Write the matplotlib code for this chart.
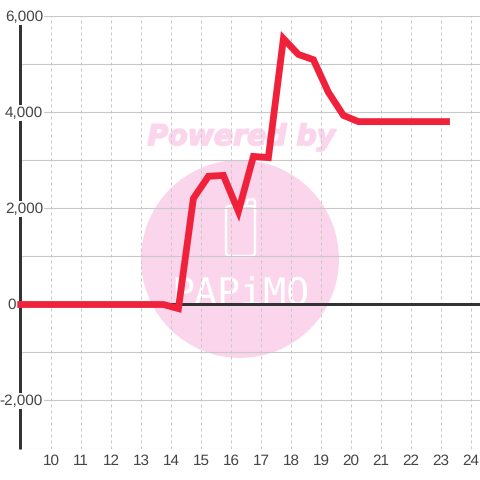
import matplotlib
matplotlib.use('Agg')
import matplotlib.pyplot as plt
import matplotlib.patheffects as pe
from matplotlib.lines import Line2D
from matplotlib.patches import Circle, FancyBboxPatch

# data
hours = [8.88, 9.25, 9.75, 10.25, 10.75, 11.25, 11.75, 12.25, 12.75, 13.25, 13.75,
         14.25, 14.75, 15.25, 15.75, 16.25, 16.75, 17.25, 17.75, 18.25, 18.75,
         19.25, 19.75, 20.25, 20.75, 21.25, 21.75, 22.25, 22.75, 23.3]
values = [0, 0, 0, 0, 0, 0, 0, 0, 0, 0, 0,
          -85, 2210, 2670, 2690, 1940, 3085, 3060, 5540, 5210, 5100,
          4420, 3940, 3810, 3810, 3810, 3810, 3810, 3810, 3810]
x_ticks = list(range(10, 25))
y_grid = [-3000, -2000, -1000, 0, 1000, 2000, 3000, 4000, 5000, 6000]
y_labelled = [6000, 4000, 2000, 0, -2000]
y_labels = ['6,000', '4,000', '2,000', '0', '-2,000']

PX = 0.72  # one pixel in points at dpi 100
GRID = '#c8c8c8'
DARK = '#333333'
PINK = '#fbd5ec'
LABEL = '#444444'

plt.rcParams['font.family'] = ['Liberation Sans', 'DejaVu Sans']
plt.rcParams['text.hinting'] = 'no_hinting'

fig = plt.figure(figsize=(4.8, 4.8), dpi=100, facecolor='white')
ax = fig.add_axes([20 / 480, 1 - 448.5 / 480, 460 / 480, 432 / 480])
ax.patch.set_visible(False)
ax.set_xlim(8.97, 24.303)
ax.set_ylim(-3000, 6000)


def fx(px):
    return px / 480


def fy(py):
    return 1 - py / 480


# watermark, behind the axes
fig.add_artist(Circle((fx(240), fy(259)), 99 / 480, transform=fig.transFigure,
                      facecolor=PINK, edgecolor='none', zorder=-2))
fig.add_artist(FancyBboxPatch((fx(226), fy(256)), 29 / 480, 50 / 480,
                              boxstyle='round,pad=0,rounding_size=0.008',
                              transform=fig.transFigure, facecolor='none',
                              edgecolor='white', linewidth=2.4 * PX, zorder=-1))
fig.add_artist(Line2D([fx(246), fx(248), fx(253), fx(255), fx(255)],
                      [fy(205), fy(200), fy(199), fy(201), fy(212)],
                      transform=fig.transFigure, color='white',
                      linewidth=2.4 * PX, zorder=-1))
fig.text(fx(241.5), fy(145), 'Powered by', family='DejaVu Sans', weight='heavy',
         style='italic', fontsize=20.4, color=PINK, ha='center', va='baseline', zorder=-1,
         path_effects=[pe.withStroke(linewidth=1.2, foreground=PINK)])
fig.text(fx(240), fy(305), 'PAPiMO', family='DejaVu Sans Mono', fontsize=27.5,
         color='white', ha='center', va='baseline', zorder=-1)

# grid
ax.set_yticks(y_grid)
ax.set_xticks(x_ticks)
ax.set_yticklabels([])
ax.tick_params(axis='y', length=0)
ax.tick_params(axis='x', length=0, pad=4, labelsize=11, labelcolor=LABEL)
ax.grid(True, axis='y', color=GRID, linewidth=1.1 * PX)
ax.grid(True, axis='x', color=GRID, linewidth=1 * PX, linestyle=(0, (3, 3)))
ax.set_axisbelow(True)

for side in ['top', 'right', 'bottom']:
    ax.spines[side].set_visible(False)
ax.spines['left'].set_linewidth(3 * PX)
ax.spines['left'].set_color(DARK)
ax.spines['left'].set_capstyle('butt')

ax.axhline(0, color=DARK, linewidth=3 * PX, zorder=2)
ax.plot(hours, values, color='#f0213a', linewidth=6.8 * PX, clip_on=False,
        solid_joinstyle='miter', solid_capstyle='butt', zorder=3)

for val, lab in zip(y_labelled, y_labels):
    offset = -4 if val == 0 else 23
    ax.annotate(lab, (0, val), xycoords=ax.get_yaxis_transform(),
                xytext=(offset * PX, -0.5 * PX), textcoords='offset points',
                ha='right', va='center', fontsize=11, color=LABEL, zorder=4,
                annotation_clip=False,
                bbox=dict(facecolor='white', edgecolor='none', pad=0.5))

fig.savefig('out.png', dpi=100)
